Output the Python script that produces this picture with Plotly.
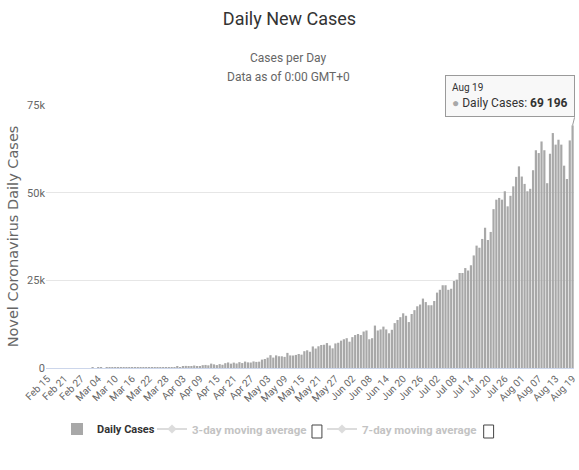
import pandas as pd
import plotly.graph_objects as go

# ---- data ----
dates = pd.date_range("2020-02-15", "2020-08-19", freq="D")

feb_cases = [0] * 15  # Feb 15 - Feb 29
mar_cases = [0, 2, 1, 22, 2, 1, 3, 5, 4, 13, 6, 11, 9, 20, 11, 6, 23, 14, 38, 50,
             86, 66, 103, 37, 121, 70, 160, 100, 74, 227, 146]
apr_cases = [437, 235, 478, 601, 525, 505, 704, 508, 485, 809, 873, 758, 1248, 1034, 835,
             1108, 922, 1371, 1580, 1239, 1537, 1292, 1667, 1408, 1835, 1607, 1561, 1873,
             1738, 1801]
may_cases = [2396, 2564, 2952, 3656, 2971, 3602, 3344, 3339, 3175, 4311, 3592, 3562, 3726,
             3991, 3808, 4794, 5049, 4628, 6147, 5553, 6198, 6568, 6629, 7111, 6414, 5609,
             7000, 7200, 7800, 8200, 8500]
jun_cases = [7500, 8800, 9400, 9700, 9400, 10400, 10700, 8200, 8500, 12100, 10700, 11000,
             11800, 11000, 9900, 10900, 12800, 13700, 14500, 15600, 14900, 13100, 15400,
             16500, 17600, 18100, 19800, 18800, 17900, 17900]
jul_cases = [19100, 21500, 22300, 23600, 23600, 22300, 22600, 24800, 25200, 27100, 27100,
             28500, 27800, 29300, 32100, 34900, 34300, 36800, 40000, 36500, 38800, 45300,
             48000, 48500, 48000, 50400, 46100, 49100, 51800, 54500, 57500]
aug_cases = [54600, 52500, 50400, 51100, 56400, 62100, 61300, 64600, 62100, 52700, 61100,
             67000, 63700, 65100, 63700, 57700, 53900, 64900, 69196]

daily_cases = feb_cases + mar_cases + apr_cases + may_cases + jun_cases + jul_cases + aug_cases

tick_labels = ["Feb 15", "Feb 21", "Feb 27", "Mar 04", "Mar 10", "Mar 16", "Mar 22", "Mar 28",
               "Apr 03", "Apr 09", "Apr 15", "Apr 21", "Apr 27", "May 03", "May 09", "May 15",
               "May 21", "May 27", "Jun 02", "Jun 08", "Jun 14", "Jun 20", "Jun 26", "Jul 02",
               "Jul 08", "Jul 14", "Jul 20", "Jul 26", "Aug 01", "Aug 07", "Aug 13", "Aug 19"]
tick_vals = list(dates[::6])

y_tick_vals = [0, 25000, 50000, 75000]
y_tick_text = ["0", "25k", "50k", "75k"]

FONT = "Roboto, Liberation Sans, sans-serif"

fig = go.Figure()
fig.add_trace(go.Bar(
    x=dates, y=daily_cases, name="Daily Cases", legend="legend",
    marker=dict(color="#a8a8a8", line=dict(width=0)),
))
# hidden (legend-only) series, as in the reference
fig.add_trace(go.Scatter(
    x=[dates[0]], y=[None], mode="lines+markers", visible="legendonly", legend="legend2",
    name="<span style='color:#888'>3-day moving average</span>",
    line=dict(color="#bbbbbb", width=2), marker=dict(symbol="diamond", size=7, color="#bbbbbb"),
))
fig.add_trace(go.Scatter(
    x=[dates[0]], y=[None], mode="lines+markers", visible="legendonly", legend="legend3",
    name="<span style='color:#888'>7-day moving average</span>",
    line=dict(color="#bbbbbb", width=2), marker=dict(symbol="diamond", size=7, color="#bbbbbb"),
))

H = 470
W = 579
plot_left, plot_right = 46, 578
pw = plot_right - plot_left
plot_top, plot_bottom = 105, 368
ph = plot_bottom - plot_top

def px(pix):
    return (pix - plot_left) / pw

def py(pix):
    return (plot_bottom - pix) / ph

def legend_at(xpix, size):
    return dict(orientation="h", xref="container", x=xpix / W, xanchor="left",
                yref="container", y=1 - 429 / H, yanchor="middle",
                bgcolor="rgba(0,0,0,0)", itemwidth=30,
                font=dict(family=FONT, size=size, color="#333333", weight="bold"),
                itemclick=False, itemdoubleclick=False)

fig.update_layout(
    width=W, height=H,
    margin=dict(l=plot_left, r=W - plot_right, t=plot_top, b=H - plot_bottom),
    paper_bgcolor="white", plot_bgcolor="white",
    bargap=0.22,
    showlegend=True,
    title=dict(text="Daily New Cases", x=0.5, xref="container", xanchor="center",
               y=1 - 19 / H, yref="container", yanchor="middle",
               font=dict(family=FONT, size=18, color="#333333")),
    legend=legend_at(57, 11),
    legend2=legend_at(152, 11.5),
    legend3=legend_at(322, 11.5),
    xaxis=dict(type="date", range=["2020-02-14 12:00", "2020-08-19 12:00"],
               tickvals=tick_vals, ticktext=tick_labels, tickangle=-45,
               ticklabeloverflow="allow",
               tickfont=dict(family=FONT, size=10, color="#666666"),
               showgrid=False, showline=True, linecolor="#ccd6eb", linewidth=1,
               ticks="", zeroline=False),
    yaxis=dict(range=[0, 75000], tickvals=y_tick_vals, ticktext=y_tick_text,
               tickfont=dict(family=FONT, size=11, color="#666666"),
               showgrid=True, gridcolor="#e6e6e6", gridwidth=1, zeroline=False,
               ticks="", showline=False,
               title=dict(text="Novel Coronavirus Daily Cases", standoff=4,
                          font=dict(family="DejaVu Sans", size=14.5, color="#666666"))),
    annotations=[
        dict(text="Cases per Day", xref="paper", yref="paper", x=px(290),
             y=py(58), showarrow=False, xanchor="center", yanchor="middle",
             font=dict(family=FONT, size=12, color="#666666")),
        dict(text="Data as of 0:00 GMT+0", xref="paper", yref="paper", x=px(290),
             y=py(77), showarrow=False, xanchor="center", yanchor="middle",
             font=dict(family=FONT, size=12, color="#666666")),
        dict(text="<span style='font-size:10px'>Aug 19</span><br>"
                  "<span style='color:#a8a8a8'>●</span> Daily Cases: <b>69 196</b>",
             x=dates[-1], y=daily_cases[-1], xref="x", yref="y",
             showarrow=True, arrowhead=0, arrowwidth=1, arrowcolor="#9a9a9a",
             ax=2, ay=-8, xanchor="right", yanchor="bottom", align="left",
             bgcolor="rgba(247,247,247,0.92)", bordercolor="#9a9a9a", borderwidth=1,
             borderpad=6, font=dict(family=FONT, size=12, color="#333333")),
    ],
    shapes=[
        dict(type="rect", xref="paper", yref="paper", layer="above",
             x0=px(314), x1=px(324), y0=py(438), y1=py(425),
             line=dict(color="#444444", width=1), fillcolor="white"),
        dict(type="rect", xref="paper", yref="paper", layer="above",
             x0=px(487), x1=px(497), y0=py(438), y1=py(425),
             line=dict(color="#444444", width=1), fillcolor="white"),
    ],
)

fig.write_html("out.html", config={"displayModeBar": False},
               post_script="document.body.style.margin='0';")
